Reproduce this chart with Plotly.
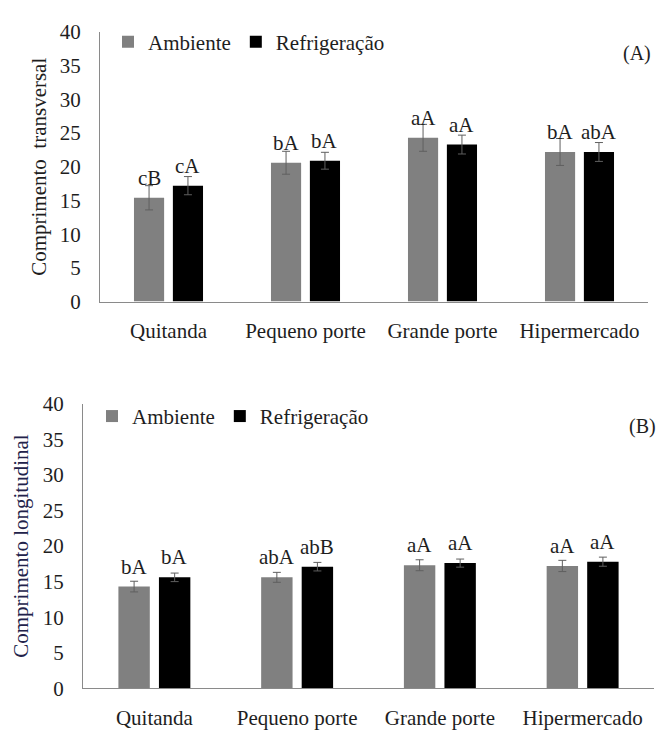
import plotly.graph_objects as go

# ---------------- data ----------------
categories = ["Quitanda", "Pequeno porte", "Grande porte", "Hipermercado"]
series_names = ["Ambiente", "Refrigeração"]

# (A) Comprimento transversal
trans_amb = [15.4, 20.6, 24.3, 22.2]
trans_amb_err = [1.8, 1.7, 2.0, 2.0]
trans_ref = [17.2, 20.9, 23.3, 22.2]
trans_ref_err = [1.35, 1.25, 1.4, 1.4]
trans_amb_lbl = ["cB", "bA", "aA", "bA"]
trans_ref_lbl = ["cA", "bA", "aA", "abA"]

# (B) Comprimento longitudinal
long_amb = [14.3, 15.6, 17.3, 17.2]
long_amb_err = [0.75, 0.7, 0.77, 0.79]
long_ref = [15.6, 17.1, 17.6, 17.8]
long_ref_err = [0.6, 0.6, 0.57, 0.64]
long_amb_lbl = ["bA", "abA", "aA", "aA"]
long_ref_lbl = ["bA", "abB", "aA", "aA"]

yticks = [0, 5, 10, 15, 20, 25, 30, 35, 40]

# ---------------- style ----------------
FONT = "Liberation Serif, Times New Roman, serif"
TXT = "#1e1e1e"
C_AMB = "#808080"
C_REF = "#000000"
ERR_C = "#5f5f5f"
AX_C = "#8a8a8a"
W = 662
H = 738
BW = 0.22
OFF_A = -0.252
OFF_R = 0.032

fig = go.Figure()


def add_panel(amb, amb_err, ref, ref_err, xa, ya, legend):
    fig.add_trace(go.Bar(
        x=categories, y=amb, name=series_names[0],
        marker=dict(color=C_AMB, line=dict(width=0)),
        width=BW, offset=OFF_A,
        error_y=dict(type="data", array=amb_err, color=ERR_C, thickness=1, width=4),
        xaxis=xa, yaxis=ya, legend=legend, showlegend=True,
    ))
    fig.add_trace(go.Bar(
        x=categories, y=ref, name=series_names[1],
        marker=dict(color=C_REF, line=dict(width=0)),
        width=BW, offset=OFF_R,
        error_y=dict(type="data", array=ref_err, color=ERR_C, thickness=1, width=4),
        xaxis=xa, yaxis=ya, legend=legend, showlegend=True,
    ))


add_panel(trans_amb, trans_amb_err, trans_ref, trans_ref_err, "x", "y", "legend")
add_panel(long_amb, long_amb_err, long_ref, long_ref_err, "x2", "y2", "legend2")

annotations = []


def add_labels(vals, lbls, shift, xref, yref):
    for i, (v, t) in enumerate(zip(vals, lbls)):
        annotations.append(dict(
            x=i + shift, y=v, xref=xref, yref=yref, text=t, showarrow=False,
            yanchor="bottom", xanchor="center", yshift=6,
            font=dict(family=FONT, size=21, color=TXT),
        ))


cA = OFF_A + BW / 2
cR = OFF_R + BW / 2
add_labels(trans_amb, trans_amb_lbl, cA, "x", "y")
add_labels(trans_ref, trans_ref_lbl, cR, "x", "y")
add_labels(long_amb, long_amb_lbl, cA, "x2", "y2")
add_labels(long_ref, long_ref_lbl, cR, "x2", "y2")

annotations.append(dict(x=637 / W, y=1 - 43 / H, xref="paper", yref="paper", text="(A)",
                        showarrow=False, xanchor="center", yanchor="middle",
                        font=dict(family=FONT, size=20, color=TXT)))
annotations.append(dict(x=642 / W, y=1 - 428 / H, xref="paper", yref="paper", text="(B)",
                        showarrow=False, xanchor="center", yanchor="middle",
                        font=dict(family=FONT, size=20, color=TXT)))

xaxis_common = dict(
    type="category", range=[-0.5, 3.5], showline=True, linecolor=AX_C, linewidth=1.2,
    showgrid=False, zeroline=False, ticks="", ticklabelstandoff=10,
    tickfont=dict(family=FONT, size=21, color=TXT), fixedrange=True,
)
yaxis_common = dict(
    range=[0, 40], tickvals=yticks, showline=True, linecolor=AX_C, linewidth=1.2,
    showgrid=False, zeroline=False, ticks="", ticklabelstandoff=14,
    tickfont=dict(family=FONT, size=21, color=TXT), fixedrange=True,
)

fig.update_layout(
    width=W, height=H,
    margin=dict(l=0, r=0, t=0, b=0),
    paper_bgcolor="white", plot_bgcolor="white",
    barmode="overlay",
    font=dict(family=FONT, color=TXT),
    xaxis=dict(xaxis_common, domain=[100 / W, 648 / W], anchor="y"),
    yaxis=dict(yaxis_common, domain=[1 - 299.3 / H, 1 - 20.7 / H], anchor="x",
               title=dict(text="Comprimento  transversal", standoff=7,
                          font=dict(family=FONT, size=21, color=TXT))),
    xaxis2=dict(xaxis_common, domain=[83 / W, 654 / W], anchor="y2"),
    yaxis2=dict(yaxis_common, domain=[1 - 699 / H, 1 - 405 / H], anchor="x2",
                title=dict(text="Comprimento longitudinal", standoff=8,
                           font=dict(family=FONT, size=21, color="#22224a"))),
    legend=dict(orientation="h", x=108 / W, y=1 - 31 / H, xanchor="left", yanchor="middle",
                font=dict(family=FONT, size=21, color=TXT), bgcolor="rgba(0,0,0,0)",
                itemwidth=30, tracegroupgap=0),
    legend2=dict(orientation="h", x=92 / W, y=1 - 418 / H, xanchor="left", yanchor="middle",
                 font=dict(family=FONT, size=21, color=TXT), bgcolor="rgba(0,0,0,0)",
                 itemwidth=30, tracegroupgap=0),
    annotations=annotations,
    showlegend=True,
)

fig.write_html(
    "out.html",
    config={"displayModeBar": False},
    post_script="document.body.style.margin='0';document.body.style.overflow='hidden';",
)
